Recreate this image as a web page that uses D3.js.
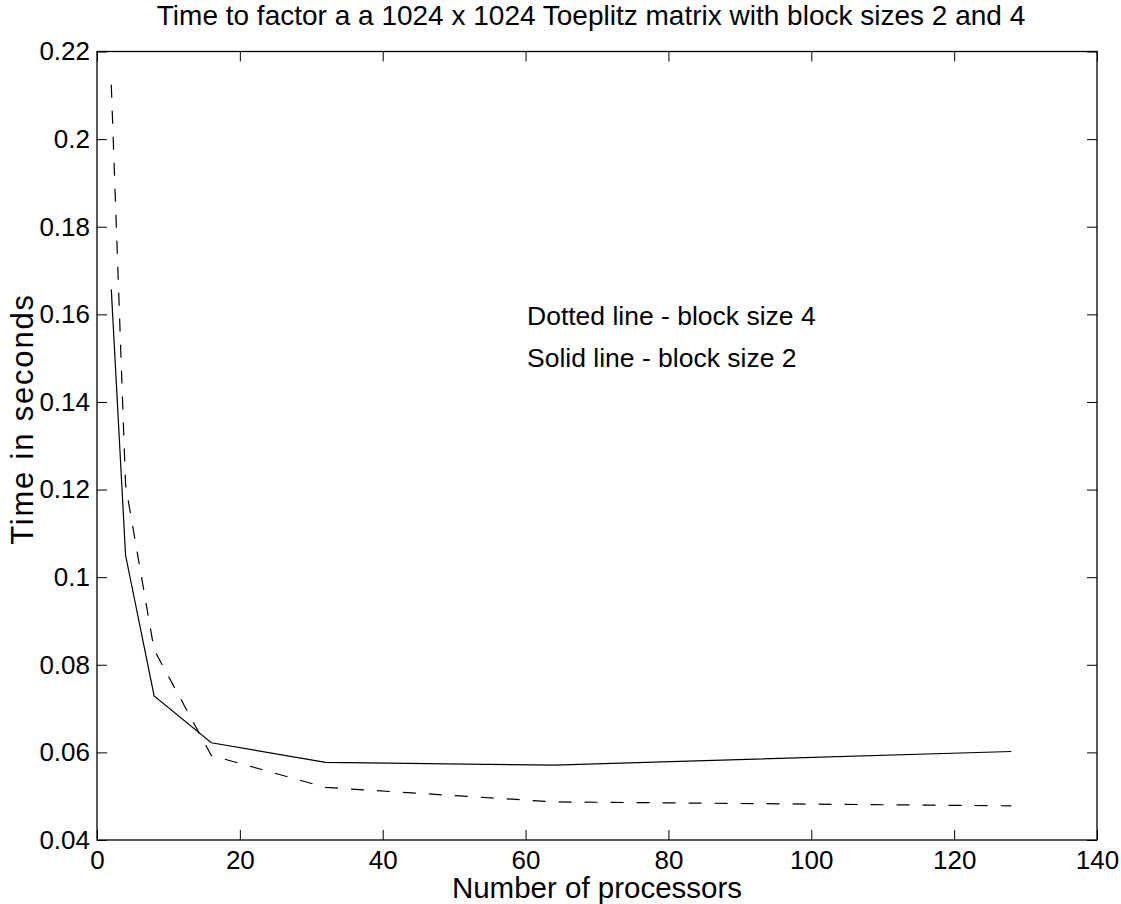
<!DOCTYPE html>
<html>
<head>
<meta charset="utf-8">
<script src="https://cdn.jsdelivr.net/npm/d3@7"></script>
<style>
  body { margin: 0; background: #fff; }
  text { font-family: "Liberation Sans", Arial, Helvetica, sans-serif; fill: #000; }
</style>
</head>
<body>
<svg id="chart" width="1121" height="904"></svg>
<script>
// Processor counts and factorization times (seconds)
const processors = [2, 4, 8, 16, 32, 64, 128];
const timeBlock2 = [0.1657, 0.105, 0.0729, 0.0622, 0.0577, 0.0571, 0.0602];
const timeBlock4 = [0.2124, 0.121, 0.0834, 0.0593, 0.0520, 0.0487, 0.0478];

const xTickValues = [0, 20, 40, 60, 80, 100, 120, 140];
const yTickValues = [0.04, 0.06, 0.08, 0.1, 0.12, 0.14, 0.16, 0.18, 0.2, 0.22];

const titleText = "Time to factor a a 1024 x 1024 Toeplitz matrix with block sizes 2 and 4";
const xLabelText = "Number of processors";
const yLabelText = "Time in seconds";
const noteLines = ["Dotted line - block size 4", "Solid line - block size 2"];

const plot = { left: 97, right: 1097, top: 51.5, bottom: 840 };
const tickFont = 26;

const svg = d3.select("#chart");

const x = d3.scaleLinear().domain([0, 140]).range([plot.left, plot.right]);
const y = d3.scaleLinear().domain([0.04, 0.22]).range([plot.bottom, plot.top]);
const yFmt = d3.format(".2~f");

function styleAxis(g) {
  g.select(".domain").remove();
  g.selectAll(".tick line").attr("stroke", "#000").attr("stroke-width", 1);
  g.selectAll(".tick text").attr("font-size", tickFont).attr("fill", "#000")
    .style("font-family", '"Liberation Sans", Arial, Helvetica, sans-serif');
}

// Bottom axis (labelled), ticks pointing inward
svg.append("g")
  .attr("transform", `translate(0,${plot.bottom})`)
  .call(d3.axisBottom(x).tickValues(xTickValues).tickSize(-10).tickPadding(11).tickFormat(d3.format("d")))
  .call(styleAxis);

// Top axis (ticks only)
svg.append("g")
  .attr("transform", `translate(0,${plot.top})`)
  .call(d3.axisTop(x).tickValues(xTickValues).tickSize(-10).tickFormat(""))
  .call(styleAxis);

// Left axis (labelled)
svg.append("g")
  .attr("transform", `translate(${plot.left},0)`)
  .call(d3.axisLeft(y).tickValues(yTickValues).tickSize(-10).tickPadding(7).tickFormat(yFmt))
  .call(styleAxis);

// Right axis (ticks only)
svg.append("g")
  .attr("transform", `translate(${plot.right},0)`)
  .call(d3.axisRight(y).tickValues(yTickValues).tickSize(-10).tickFormat(""))
  .call(styleAxis);

// Plot frame
svg.append("rect")
  .attr("x", plot.left).attr("y", plot.top)
  .attr("width", plot.right - plot.left).attr("height", plot.bottom - plot.top)
  .attr("fill", "none").attr("stroke", "#000").attr("stroke-width", 1.3);

const line = d3.line().x(d => x(d[0])).y(d => y(d[1]));

// Block size 2: solid
svg.append("path")
  .datum(processors.map((p, i) => [p, timeBlock2[i]]))
  .attr("d", line)
  .attr("fill", "none").attr("stroke", "#000").attr("stroke-width", 1.2);

// Block size 4: dashed
svg.append("path")
  .datum(processors.map((p, i) => [p, timeBlock4[i]]))
  .attr("d", line)
  .attr("fill", "none").attr("stroke", "#000").attr("stroke-width", 1.2)
  .attr("stroke-dasharray", "13,13");

// Title
svg.append("text")
  .attr("x", 591).attr("y", 25)
  .attr("text-anchor", "middle").attr("font-size", 28)
  .text(titleText);

// Axis labels
svg.append("text")
  .attr("x", 597).attr("y", 898)
  .attr("text-anchor", "middle").attr("font-size", 29.5)
  .text(xLabelText);

svg.append("text")
  .attr("transform", `translate(33,419) rotate(-90)`)
  .attr("text-anchor", "middle").attr("font-size", 31)
  .attr("letter-spacing", 1.8)
  .text(yLabelText);

// Annotation text
svg.selectAll("text.note")
  .data(noteLines)
  .enter().append("text")
  .attr("class", "note")
  .attr("x", 527)
  .attr("y", (d, i) => 325 + i * 42.3)
  .attr("font-size", 26.5)
  .text(d => d);
</script>
</body>
</html>
